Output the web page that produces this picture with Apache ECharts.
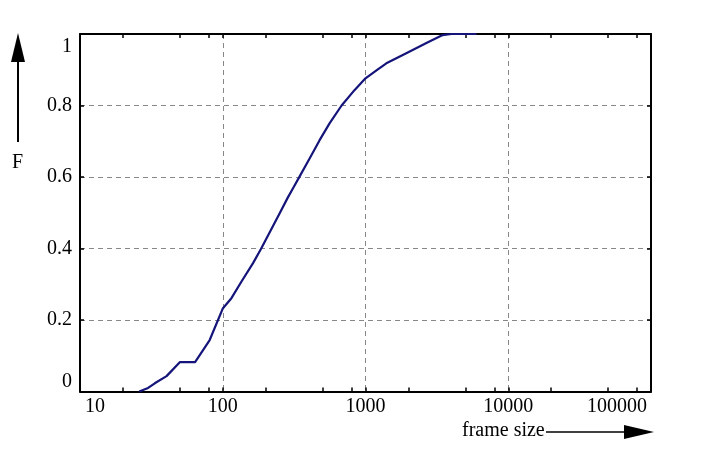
<!DOCTYPE html>
<html>
<head>
<meta charset="utf-8">
<script src="https://cdn.jsdelivr.net/npm/echarts@6/dist/echarts.min.js"></script>
<style>
html,body{margin:0;padding:0;background:#fff;}
#chart{width:702px;height:451px;}
</style>
</head>
<body>
<div id="chart"></div>
<script>
// ---- data ----
var frameSize = [26, 30, 33.4, 40.4, 50, 64, 81, 100, 115, 135, 163, 186, 250, 286, 310, 345, 405, 477, 560, 680, 837, 1000, 1200, 1400, 1930, 2650, 3470, 4000, 6000];
var cdfValues = [0, 0.010, 0.023, 0.043, 0.082, 0.082, 0.144, 0.232, 0.261, 0.307, 0.359, 0.4, 0.498, 0.543, 0.568, 0.601, 0.651, 0.703, 0.75, 0.8, 0.843, 0.876, 0.899, 0.918, 0.946, 0.974, 0.997, 1.0, 1.0];
var xTickValues = [10, 20, 50, 80, 100, 200, 500, 800, 1000, 2000, 5000, 8000, 10000, 20000, 50000, 80000, 100000];
var yTickLabels = ['0', '0.2', '0.4', '0.6', '0.8', '1'];

var FONT = 'Liberation Serif';
var seriesData = frameSize.map(function (v, i) { return [v, cdfValues[i]]; });
var tickLog = xTickValues.map(function (v) { return Math.log10(v); });

var chart = echarts.init(document.getElementById('chart'));
var tickStyle = { show: true, inside: true, length: 4, lineStyle: { color: '#000', width: 1.5 } };
var gridDash = { show: true, lineStyle: { color: '#888', width: 1, type: [5, 4] } };

chart.setOption({
  animation: false,
  backgroundColor: '#fff',
  grid: { left: 80, right: 51, top: 34, bottom: 59.5, containLabel: false },
  xAxis: [
    {
      type: 'log', logBase: 10, min: 10, max: 100000, position: 'bottom',
      axisLine: { show: true, lineStyle: { color: '#000', width: 2 } },
      axisTick: { show: false },
      axisLabel: {
        show: true, color: '#000', fontFamily: FONT, fontSize: 20, margin: 5,
        alignMinLabel: 'left', alignMaxLabel: 'right',
        formatter: function (v) {
          var s = String(Math.round(v));
          if (s === '10') return '{first|' + s + '}';
          if (s === '100000') return '{last|' + s + '}';
          return s;
        },
        rich: {
          first: { fontFamily: FONT, fontSize: 20, color: '#000', padding: [0, 0, 0, 5] },
          last: { fontFamily: FONT, fontSize: 20, color: '#000', padding: [0, 4, 0, 0] }
        }
      },
      splitLine: gridDash
    },
    {
      type: 'value', min: 1, max: 5, position: 'bottom',
      axisLine: { show: false },
      axisTick: Object.assign({ customValues: tickLog }, tickStyle),
      axisLabel: { show: false },
      splitLine: { show: false }
    },
    {
      type: 'value', min: 1, max: 5, position: 'top',
      axisLine: { show: true, lineStyle: { color: '#000', width: 2 } },
      axisTick: Object.assign({ customValues: tickLog }, tickStyle),
      axisLabel: { show: false },
      splitLine: { show: false }
    }
  ],
  yAxis: [
    {
      type: 'value', min: 0, max: 1, interval: 0.2, position: 'left',
      axisLine: { show: true, lineStyle: { color: '#000', width: 2 } },
      axisTick: tickStyle,
      axisLabel: {
        show: true, color: '#000', fontFamily: FONT, fontSize: 20, margin: 8,
        verticalAlignMinLabel: 'bottom', verticalAlignMaxLabel: 'top',
        formatter: function (v) {
          var s = yTickLabels[Math.round(v * 5)];
          return s === '1' ? '{top|' + s + '}' : s;
        },
        rich: {
          top: { fontFamily: FONT, fontSize: 20, color: '#000', padding: [3, 0, 0, 0] }
        }
      },
      splitLine: gridDash
    },
    {
      type: 'value', min: 0, max: 1, interval: 0.2, position: 'right',
      axisLine: { show: true, lineStyle: { color: '#000', width: 2 } },
      axisTick: tickStyle,
      axisLabel: { show: false },
      splitLine: { show: false }
    }
  ],
  series: [
    {
      type: 'line', xAxisIndex: 0, yAxisIndex: 0,
      data: seriesData, showSymbol: false, symbol: 'none',
      clip: false,
      lineStyle: { color: '#14147a', width: 2.2, join: 'round' }
    }
  ],
  graphic: [
    { type: 'line', shape: { x1: 18, y1: 142, x2: 18, y2: 60 }, style: { stroke: '#000', lineWidth: 2 } },
    { type: 'polygon', shape: { points: [[18, 33], [11, 62], [25, 62]] }, style: { fill: '#000' } },
    { type: 'text', left: 12, top: 153, style: { text: 'F', font: '20px "Liberation Serif"', fill: '#000' } },
    { type: 'text', left: 462, top: 421, style: { text: 'frame size', font: '20px "Liberation Serif"', fill: '#000' } },
    { type: 'line', shape: { x1: 546, y1: 432, x2: 626, y2: 432 }, style: { stroke: '#000', lineWidth: 1.5 } },
    { type: 'polygon', shape: { points: [[654, 432], [624, 425], [624, 439]] }, style: { fill: '#000' } }
  ]
});
</script>
</body>
</html>
